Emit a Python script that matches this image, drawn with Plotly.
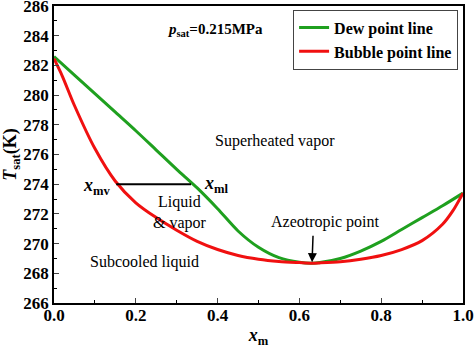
import plotly.graph_objects as go

# Data
x_dew = [0.0, 0.05, 0.1, 0.15, 0.2, 0.25, 0.3, 0.35, 0.4, 0.45, 0.5, 0.55, 0.6, 0.63,
         0.65, 0.7, 0.75, 0.8, 0.85, 0.9, 0.95, 1.0]
t_dew = [282.6, 281.35, 280.1, 278.85, 277.6, 276.3, 275.0, 273.75, 272.35, 270.85, 269.75,
         269.05, 268.74, 268.68, 268.72, 269.0, 269.5, 270.15, 270.95, 271.75, 272.55, 273.4]

x_bub = [0.0, 0.02, 0.05, 0.1, 0.15, 0.2, 0.25, 0.3, 0.35, 0.4, 0.45, 0.5, 0.55, 0.6, 0.63,
         0.65, 0.7, 0.75, 0.8, 0.85, 0.9, 0.95, 0.975, 1.0]
t_bub = [282.45, 281.3, 279.3, 276.4, 274.2, 272.75, 271.75, 270.9, 270.15, 269.6, 269.2,
         268.95, 268.8, 268.72, 268.68, 268.7, 268.78, 268.95, 269.2, 269.6, 270.2, 271.3,
         272.2, 273.4]

tie_x = [0.152, 0.335]
tie_t = [274.0, 274.0]

FONT = "Times New Roman, Liberation Serif, DejaVu Serif, serif"

fig = go.Figure()
fig.add_trace(go.Scatter(x=x_dew, y=t_dew, mode="lines", name="<b>Dew point line</b>",
                         line=dict(color="#1fa01f", width=3, shape="spline", smoothing=0.8)))
fig.add_trace(go.Scatter(x=x_bub, y=t_bub, mode="lines", name="<b>Bubble point line</b>",
                         line=dict(color="#f01010", width=3, shape="spline", smoothing=0.8)))
fig.add_trace(go.Scatter(x=tie_x, y=tie_t, mode="lines", showlegend=False,
                         line=dict(color="black", width=2)))

ann = [
    dict(x=0.394, y=284.4, text="<b><i>p</i><sub>sat</sub>=0.215MPa</b>", size=15),
    dict(x=0.54, y=276.9, text="Superheated vapor", size=16),
    dict(x=0.308, y=272.1, text="Liquid<br>& vapor", size=16),
    dict(x=0.105, y=273.85, text="<b><i>x</i><sub>mv</sub></b>", size=18),
    dict(x=0.395, y=274.0, text="<b><i>x</i><sub>ml</sub></b>", size=18),
    dict(x=0.222, y=268.76, text="Subcooled liquid", size=16),
    dict(x=0.663, y=271.45, text="Azeotropic point", size=16),
]
annotations = [dict(x=a["x"], y=a["y"], xref="x", yref="y", text=a["text"], showarrow=False,
                    font=dict(family=FONT, size=a["size"], color="black")) for a in ann]
annotations.append(dict(x=0.631, y=268.75, xref="x", yref="y", ax=1, ay=-28, text="",
                        showarrow=True, arrowhead=2, arrowsize=1.2, arrowwidth=1.5,
                        arrowcolor="black"))

fig.update_layout(
    width=474, height=358,
    margin=dict(l=54, r=11, t=6, b=55),
    paper_bgcolor="white", plot_bgcolor="white",
    font=dict(family=FONT, size=16, color="black"),
    showlegend=True,
    legend=dict(x=0.988, y=0.988, xanchor="right", yanchor="top",
                bordercolor="#444", borderwidth=1, bgcolor="white",
                font=dict(family=FONT, size=16, color="black"),
                itemwidth=30, tracegroupgap=0),
    annotations=annotations,
)
fig.update_xaxes(range=[0, 1], dtick=0.2, tickformat=".1f", ticks="inside", ticklen=5,
                 tickwidth=1.2, showline=True, linecolor="black", linewidth=1.5,
                 mirror=True, showgrid=False, zeroline=False, automargin=False,
                 ticklabeloverflow="allow", ticklabelstandoff=-4,
                 tickfont=dict(family=FONT, size=17, color="black"),
                 minor=dict(dtick=0.1, ticks="inside", ticklen=3, tickcolor="black"),
                 title=dict(text="<b><i>x</i><sub>m</sub></b>",
                            font=dict(family=FONT, size=18), standoff=4))
fig.update_yaxes(range=[266, 286], dtick=2, ticks="inside", ticklen=5, tickwidth=1.2,
                 showline=True, linecolor="black", linewidth=1.5, mirror=True,
                 showgrid=False, zeroline=False, automargin=False,
                 ticklabeloverflow="allow",
                 tickfont=dict(family=FONT, size=17, color="black"),
                 minor=dict(dtick=1, ticks="inside", ticklen=3, tickcolor="black"),
                 title=dict(text="<b><i>T</i><sub>sat</sub>(K)</b>",
                            font=dict(family=FONT, size=18), standoff=2))
fig.update_xaxes(tickprefix="<b>", ticksuffix="</b>")
fig.update_yaxes(tickprefix="<b>", ticksuffix="</b>")

fig.write_html("out.html", config={"displayModeBar": False},
               post_script="document.body.style.margin='0';document.body.style.padding='0';")
